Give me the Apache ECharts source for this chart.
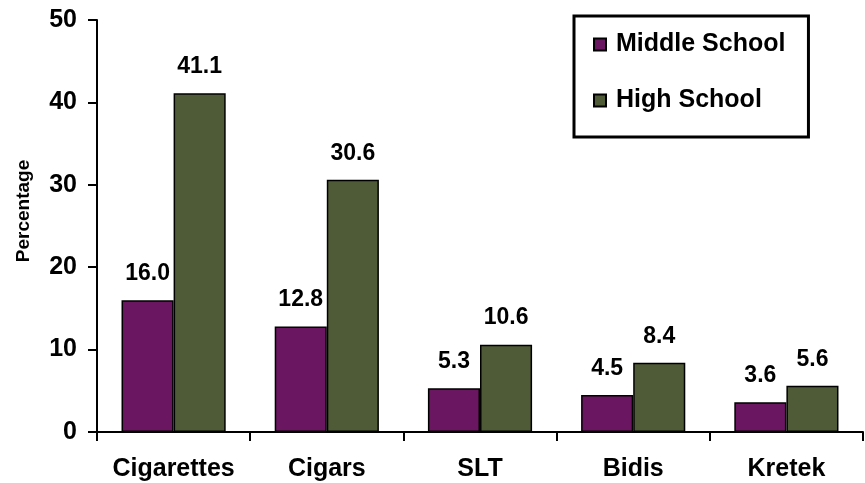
<!DOCTYPE html>
<html>
<head>
<meta charset="utf-8">
<script src="https://cdn.jsdelivr.net/npm/echarts@6/dist/echarts.min.js"></script>
<style>
  html, body { margin: 0; padding: 0; background: #fff; }
  #chart { width: 865px; height: 483px; }
</style>
</head>
<body>
<div id="chart"></div>
<script>
// tobacco product use, percentage
var categories = ['Cigarettes', 'Cigars', 'SLT', 'Bidis', 'Kretek'];
var middleSchool = [16.0, 12.8, 5.3, 4.5, 3.6];
var highSchool = [41.1, 30.6, 10.6, 8.4, 5.6];
var yTicks = [0, 10, 20, 30, 40, 50];

var font = '"Liberation Sans", Arial, sans-serif';

var chart = echarts.init(document.getElementById('chart'));

function barLabel() {
    return {
        show: true,
        position: 'top',
        distance: 15,
        color: '#000',
        fontFamily: font,
        fontWeight: 'bold',
        fontSize: 23,
        formatter: function (p) { return p.value.toFixed(1); }
    };
}

var option = {
    animation: false,
    backgroundColor: '#fff',
    grid: { left: 97, right: 2, top: 20, bottom: 51 },
    legend: {
        orient: 'vertical',
        left: 574,
        top: 16,
        padding: [16, 23, 24, 19],
        itemGap: 31,
        itemWidth: 12,
        itemHeight: 12,
        icon: 'rect',
        borderColor: '#000',
        borderWidth: 3,
        backgroundColor: '#fff',
        textStyle: { fontFamily: font, fontWeight: 'bold', fontSize: 25, color: '#000', padding: [0, 0, 0, 5] },
        data: ['Middle School', 'High School']
    },
    xAxis: {
        type: 'category',
        data: categories,
        axisLine: { lineStyle: { color: '#000', width: 2 } },
        axisTick: { show: true, length: 9, alignWithLabel: false, lineStyle: { color: '#000', width: 2 } },
        axisLabel: { interval: 0, hideOverlap: false, margin: 25, color: '#000', fontFamily: font, fontWeight: 'bold', fontSize: 25 }
    },
    yAxis: {
        type: 'value',
        min: yTicks[0],
        max: yTicks[yTicks.length - 1],
        interval: 10,
        splitLine: { show: false },
        axisLine: { show: true, lineStyle: { color: '#000', width: 2 } },
        axisTick: { show: true, length: 9, lineStyle: { color: '#000', width: 2 } },
        axisLabel: { margin: 20, color: '#000', fontFamily: font, fontWeight: 'bold', fontSize: 25 }
    },
    graphic: [{
        type: 'text',
        x: 24,
        y: 211,
        rotation: Math.PI / 2,
        style: {
            text: 'Percentage',
            fill: '#000',
            font: 'bold 19px ' + font,
            align: 'center',
            verticalAlign: 'middle'
        }
    }],
    series: [
        {
            name: 'Middle School',
            type: 'bar',
            data: middleSchool,
            barWidth: '34%',
            barGap: '0%',
            itemStyle: { color: '#6B1660', borderColor: '#000', borderWidth: 1.5 },
            label: barLabel()
        },
        {
            name: 'High School',
            type: 'bar',
            data: highSchool,
            barWidth: '34%',
            barGap: '0%',
            itemStyle: { color: '#4F5A36', borderColor: '#000', borderWidth: 1.5 },
            label: barLabel()
        }
    ]
};

chart.setOption(option);
window.onresize = chart.resize;
</script>
</body>
</html>
